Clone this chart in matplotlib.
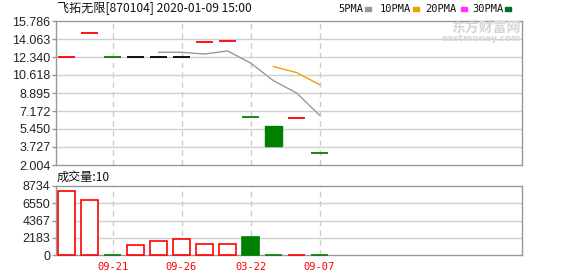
import numpy as np
import pandas as pd
import matplotlib
matplotlib.use("Agg")
import matplotlib.pyplot as plt
from matplotlib.patches import Rectangle

# daily k-line data
opens = [12.34, 14.61, 12.34, 12.34, 12.34, 12.34, 13.75, 13.84, 6.57, 5.74, 6.50, 3.12]
closes = [12.34, 14.61, 12.34, 12.34, 12.34, 12.34, 13.75, 13.84, 6.57, 3.85, 6.50, 3.12]
volumes = [8100, 6960, 90, 1270, 1810, 2060, 1390, 1390, 2320, 90, 40, 10]
tick_pos = [2, 5, 8, 11]
tick_labels = ["09-21", "09-26", "03-22", "09-07"]
price_ticks = [2.004, 3.727, 5.450, 7.172, 8.895, 10.618, 12.340, 14.063, 15.786]
vol_ticks = [0, 2183, 4367, 6550, 8734]
title = "飞拓无限[870104] 2020-01-09 15:00"
ma_names = ["5PMA", "10PMA", "20PMA", "30PMA"]
ma_colors = ["#999999", "#f0a000", "#ff33ff", "#006f30"]

UP, DOWN, FLAT = "#ff0000", "#008000", "#000000"
W, H = 578, 276

fig = plt.figure(figsize=(W / 100, H / 100), dpi=100)

def box(l, t, r, b):
    return [l / W, 1 - b / H, (r - l) / W, (b - t) / H]

ax = fig.add_axes(box(56, 21, 522, 165))
axv = fig.add_axes(box(56, 186, 522, 255.3))

n = len(closes)
x = np.arange(n)
xlim = (-10.5 / 23, (522 - 66.5) / 23)

for a in (ax, axv):
    a.set_xlim(*xlim)
    for s in a.spines.values():
        s.set_color("#999999")
        s.set_linewidth(1)
    a.set_xticks(tick_pos)
    for p in tick_pos:
        a.axvline(p, color="#cccccc", lw=1, ls=(0, (4, 3)), zorder=0)
    a.tick_params(axis="y", length=3, width=1, color="#999999", pad=1,
                  labelsize=9, labelcolor="#222222")
    a.tick_params(axis="x", length=0)

ax.set_ylim(price_ticks[0], price_ticks[-1])
ax.set_yticks(price_ticks)
ax.set_yticklabels(["%.3f" % v for v in price_ticks], family="Liberation Sans")
ax.set_xticklabels([])
for v in price_ticks[1:-1]:
    ax.axhline(v, color="#d0d0d0", lw=1, zorder=0)

axv.set_ylim(0, vol_ticks[-1])
axv.set_yticks(vol_ticks)
axv.set_yticklabels([str(v) for v in vol_ticks], family="Liberation Sans")
axv.set_xticklabels(tick_labels, color="#ff0000", fontsize=7.5, family="DejaVu Sans Mono")
axv.tick_params(axis="x", pad=5)
for v in vol_ticks[1:-1]:
    axv.axhline(v, color="#d0d0d0", lw=1, zorder=0)

bw = 0.72
prev = None
for i in range(n):
    o, c = opens[i], closes[i]
    if o == c:
        if prev is None or c > prev:
            col = UP
        elif c < prev:
            col = DOWN
        else:
            col = FLAT
        ax.hlines(c, i - bw / 2, i + bw / 2, color=col, lw=1.3, zorder=3)
    else:
        col = UP if c > o else DOWN
        ax.add_patch(Rectangle((i - bw / 2, min(o, c)), bw, abs(c - o),
                               facecolor=col if col == DOWN else "white",
                               edgecolor=col, lw=1, zorder=3))
    down = prev is not None and c < prev
    if down:
        axv.bar(i, volumes[i], width=bw, color=DOWN, edgecolor=DOWN, lw=1.2,
                zorder=3, clip_on=False)
    else:
        axv.bar(i, volumes[i], width=bw, facecolor="white", edgecolor=UP, lw=1.2,
                zorder=3, clip_on=False)
    prev = c

cs = pd.Series(closes)
for k, col in zip([5, 10, 20, 30], ma_colors):
    ma = cs.rolling(k).mean()
    ax.plot(x, ma, color=col, lw=1, zorder=4)

# header texts
fig.text(57 / W, 1 - 9 / H, title, family=["Noto Sans CJK SC"], fontsize=8.7,
         va="center", ha="left", color="#111111")
fig.text(57 / W, 1 - 177.5 / H, "成交量:10", family=["Noto Sans CJK SC"], fontsize=8.7,
         va="center", ha="left", color="#111111")

lx = [338, 380, 425, 472]
sx = [365, 413, 461, 505]
for name, col, tx, qx in zip(ma_names, ma_colors, lx, sx):
    fig.text(tx / W, 1 - 9 / H, name, family="DejaVu Sans Mono", fontsize=7.5,
             va="center", ha="left", color="#111111")
    fig.patches.append(Rectangle((qx / W, 1 - 11 / H), 6 / W, 4 / H,
                                 transform=fig.transFigure, color=col, figure=fig))

# watermark
fig.text(521 / W, 1 - 28 / H, "东方财富网", family=["Noto Sans CJK SC"], fontsize=10,
         fontweight="bold", color="#d6d6d6", ha="right", va="center")
fig.text(521 / W, 1 - 38.5 / H, "eastmoney.com", family="DejaVu Sans", fontsize=6.5,
         fontweight="bold", color="#d6d6d6", ha="right", va="center")

fig.savefig("out.png", dpi=100)
